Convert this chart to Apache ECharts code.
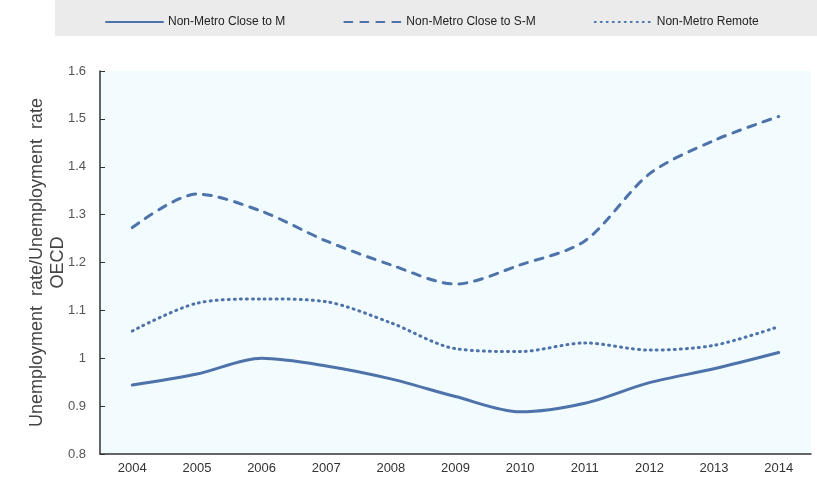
<!DOCTYPE html>
<html>
<head>
<meta charset="utf-8">
<script src="https://cdn.jsdelivr.net/npm/echarts@6/dist/echarts.min.js"></script>
<style>html,body{margin:0;padding:0;background:#fff;}#c{width:817px;height:477px;}</style>
</head>
<body>
<div id="c"></div>
<script>
const years = ['2004','2005','2006','2007','2008','2009','2010','2011','2012','2013','2014'];
const closeToM = [0.944, 0.967, 1.000, 0.984, 0.957, 0.920, 0.888, 0.906, 0.949, 0.978, 1.012];
const closeToSM = [1.273, 1.343, 1.307, 1.245, 1.195, 1.155, 1.195, 1.245, 1.385, 1.455, 1.505];
const remote = [1.057, 1.115, 1.124, 1.118, 1.074, 1.020, 1.014, 1.032, 1.017, 1.027, 1.066];
const seriesNames = ['Non-Metro Close to M', 'Non-Metro Close to S-M', 'Non-Metro Remote'];

const lineColor = '#4E72AA';
const font = '"Liberation Sans", Arial, sans-serif';
const chart = echarts.init(document.getElementById('c'));
function mk(name, data, type) {
  return {
    name: name, type: 'line', data: data, smooth: 0.3, symbol: 'none',
    lineStyle: { color: lineColor, width: 3, type: type, cap: 'round' },
    itemStyle: { color: lineColor }
  };
}
chart.setOption({
  animation: false,
  backgroundColor: '#fff',
  graphic: [{ type: 'rect', shape: { x: 55, y: 0, width: 762, height: 36 }, style: { fill: '#EBEBEB' }, z: -1 }],
  legend: {
    top: 11, left: 100, itemGap: 58, itemWidth: 57, itemHeight: 10,
    itemStyle: { color: 'transparent', borderWidth: 0, opacity: 0 },
    textStyle: { fontFamily: font, fontSize: 12, color: '#222' },
    data: seriesNames
  },
  grid: { left: 100, right: 6, top: 71, bottom: 23, show: true, backgroundColor: '#F2FBFE', borderWidth: 0 },
  xAxis: {
    type: 'category', data: years, boundaryGap: true,
    axisLine: { lineStyle: { color: '#333', width: 1.5 } },
    axisTick: { inside: true, length: 6, lineStyle: { color: '#333' } },
    axisLabel: { fontFamily: font, fontSize: 13, color: '#333', margin: 8 },
    splitLine: { show: false }
  },
  yAxis: {
    type: 'value', min: 0.8, max: 1.6, interval: 0.1,
    name: 'Unemployment  rate/Unemployment  rate\nOECD',
    nameLocation: 'middle', nameGap: 31, nameRotate: 90, nameMoveOverlap: false,
    nameTextStyle: { fontFamily: font, fontSize: 18, color: '#444', lineHeight: 21 },
    axisLine: { show: true, lineStyle: { color: '#333', width: 1.5 } },
    axisTick: { show: true, inside: true, length: 5, lineStyle: { color: '#333' } },
    axisLabel: { fontFamily: font, fontSize: 13, color: '#555', margin: 14,
      formatter: v => String(parseFloat(v.toFixed(1))) },
    splitLine: { show: false }
  },
  series: [mk(seriesNames[0], closeToM, 'solid'), mk(seriesNames[1], closeToSM, [8, 8]), mk(seriesNames[2], remote, [1, 5])]
});
</script>
</body>
</html>
